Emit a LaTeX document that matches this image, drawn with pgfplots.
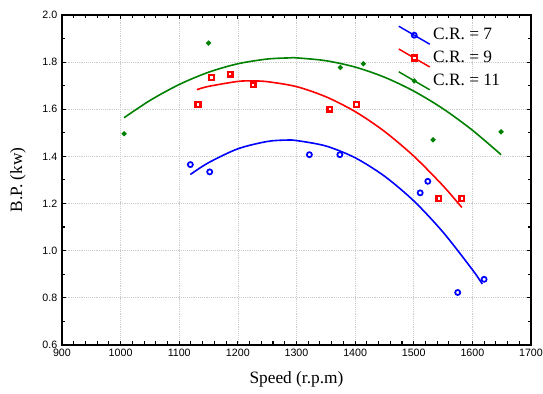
\documentclass[border=0pt]{standalone}
\usepackage{pgfplots}
\pgfplotsset{compat=1.18}
\usepackage{fontspec}
\setmainfont{Liberation Serif}
\newfontfamily\arialf{Liberation Sans}
\definecolor{cblue}{RGB}{0,0,255}
\definecolor{cred}{RGB}{255,0,0}
\definecolor{cgreen}{RGB}{0,128,0}
\begin{document}
\begin{tikzpicture}
\useasboundingbox (-46.5pt,-36.75pt) rectangle (361pt,258.75pt);
\begin{axis}[
  scale only axis, width=352pt, height=247.5pt,
  xmin=900, xmax=1700, ymin=0.6, ymax=2.0,
  xtick={900,1000,1100,1200,1300,1400,1500,1600,1700},
  ytick={0.6,0.8,1.0,1.2,1.4,1.6,1.8,2.0},
  minor x tick num=4, minor y tick num=1,
  tick align=inside, tick pos=both,
  grid=major, major grid style={densely dotted, gray!40, line width=0.5pt},
  axis line style={line width=1.1pt},
  every tick/.style={black, line width=0.8pt},
  major tick length=3pt, minor tick length=2.5pt,
  /pgf/number format/assume math mode=true,
  tick label style={font=\arialf\fontsize{8}{9}\selectfont},
  xticklabel style={/pgf/number format/1000 sep={}},
  yticklabel style={/pgf/number format/.cd, fixed, fixed zerofill, precision=1},
  xlabel={Speed (r.p.m)}, ylabel={B.P. (kw)},
  every axis x label/.style={at={(axis description cs:0.5,-0.106)}, anchor=center, font=\fontsize{13}{15}\selectfont},
  every axis y label/.style={at={(axis description cs:-0.094,0.5)}, rotate=90, anchor=center, font=\fontsize{13}{15}\selectfont},
  legend style={font=\fontsize{13}{13}\selectfont, draw=none, fill=none,
    at={(axis description cs:0.716,0.969)}, anchor=north west,
    cells={anchor=west}, row sep=2.5pt, inner sep=0pt},
  legend image code/.code={
    \draw[#1, sharp plot, mark repeat=2, mark phase=2] plot coordinates {(0pt,6.75pt) (11.6pt,0pt) (23.25pt,-6.75pt)};
  },
]
% fitted curves
\addplot[cblue, line width=1.2pt, smooth, forget plot] coordinates {
(1119,1.323) (1150,1.373) (1200,1.432) (1250,1.463) (1282.5,1.469) (1300,1.467)
(1350,1.444) (1400,1.394) (1450,1.316) (1500,1.211) (1550,1.078) (1600,0.919) (1617,0.858)};
\addplot[cred, line width=1.2pt, smooth, forget plot] coordinates {
(1130,1.683) (1150,1.697) (1200,1.718) (1224,1.720) (1250,1.717) (1300,1.696)
(1350,1.653) (1400,1.590) (1450,1.506) (1500,1.401) (1550,1.275) (1582,1.183)};
\addplot[cgreen, line width=1.2pt, smooth, forget plot] coordinates {
(1006,1.564) (1050,1.637) (1100,1.705) (1150,1.757) (1200,1.793) (1250,1.813) (1289,1.818)
(1300,1.818) (1350,1.806) (1400,1.779) (1450,1.736) (1500,1.677) (1550,1.602) (1600,1.511) (1649,1.407)};
% data points
\addplot[cblue, line width=1.1pt, only marks, mark=o, mark size=1.9pt, mark options={line width=1.3pt}] coordinates {
(1119,1.365) (1152,1.334) (1322,1.407) (1374,1.407) (1511,1.245) (1524,1.294) (1575,0.822) (1620,0.878)};
\addlegendentry{C.R. = 7}
\addplot[cred, line width=1.1pt, only marks, mark=square*, mark size=1.8pt, mark options={draw=cred, fill=white, line width=1.7pt}] coordinates {
(1132,1.621) (1155,1.734) (1187,1.749) (1226,1.703) (1357,1.600) (1402,1.621) (1543,1.220) (1582,1.220)};
\addlegendentry{C.R. = 9}
\addplot[cgreen, line width=1.1pt, only marks, mark=*, mark size=1.3pt] coordinates {
(1006,1.496) (1150,1.881) (1375,1.777) (1414,1.793) (1533,1.470) (1649,1.504)};
\addlegendentry{C.R. = 11}
\end{axis}
\end{tikzpicture}
\end{document}
